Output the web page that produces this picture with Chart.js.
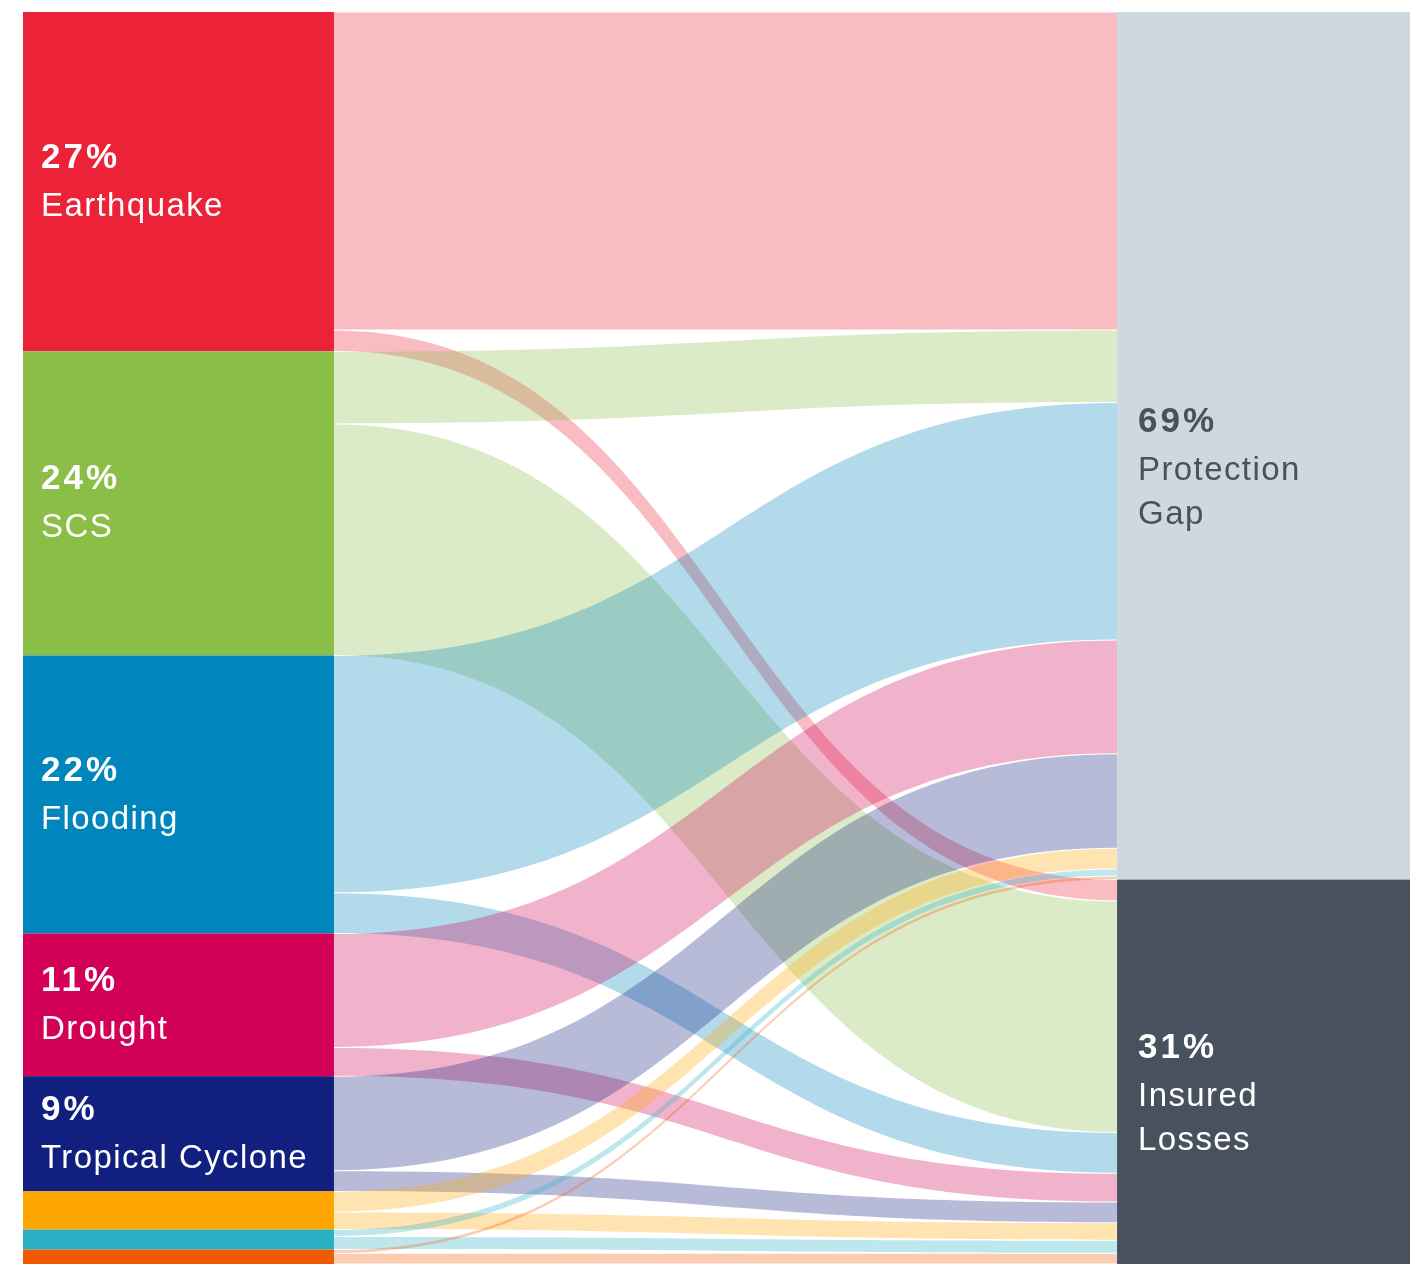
<!DOCTYPE html>
<html>
<head>
<meta charset="utf-8">
<title>Hazard losses: insured vs. protection gap</title>
<script src="https://cdn.jsdelivr.net/npm/chart.js@4"></script>
<style>
  html, body { margin: 0; padding: 0; background: #fff; }
  canvas { display: block; }
</style>
</head>
<body>
<canvas id="flow-chart" width="1410" height="1264"></canvas>
<script>
// hazards on the left, outcomes on the right (shares of total losses, %)
const hazards = ['Earthquake', 'SCS', 'Flooding', 'Drought', 'Tropical Cyclone', '', '', ''];
const hazardColors = ['#EC2239', '#8BBE47', '#0085BD', '#D20057', '#111F7E', '#FFA500', '#29B0C4', '#EF5A00'];
const gapShare = [25.4, 5.8, 18.95, 9.1, 7.55, 1.65, 0.55, 0.3];
const insuredShare = [1.7, 18.5, 3.25, 2.3, 1.65, 1.4, 1.05, 0.85];

const outcomes = [['Protection', 'Gap'], ['Insured', 'Losses']];
const outcomeColors = ['#CDD9DF', '#47525E'];
const outcomeTextColors = ['#47525E', '#FFFFFF'];

// column positions on the x scale (0..1)
const leftCol = [0, 0.2242];
const rightCol = [0.7888, 1];

function hexToRgba(hex, a) {
    const n = parseInt(hex.slice(1), 16);
    return `rgba(${(n >> 16) & 255}, ${(n >> 8) & 255}, ${n & 255}, ${a})`;
}

function drawLabel(ctx, x, yCenter, pct, lines, color) {
    ctx.fillStyle = color;
    ctx.textAlign = 'left';
    ctx.textBaseline = 'alphabetic';
    let y = yCenter - 14;
    ctx.font = 'bold 35px "Liberation Sans", Arial, sans-serif';
    ctx.letterSpacing = '3px';
    ctx.fillText(pct, x, y);
    ctx.font = '33px "Liberation Sans", Arial, sans-serif';
    ctx.letterSpacing = '1.4px';
    y += 48;
    lines.forEach((line) => {
        ctx.fillText(line, x, y);
        y += 44;
    });
    ctx.letterSpacing = '0px';
}

const sankeyPlugin = {
    id: 'sankeyFlows',
    beforeDatasetsDraw(chart) {
        const ctx = chart.ctx;
        const xs = chart.scales.x;
        const ys = chart.scales.y;
        const flows = [gapShare, insuredShare];

        const hazardTotals = hazards.map((_, i) => gapShare[i] + insuredShare[i]);
        const outcomeTotals = flows.map(arr => arr.reduce((s, v) => s + v, 0));

        const xa = xs.getPixelForValue(leftCol[1]);
        const xb = xs.getPixelForValue(rightCol[0]);
        const xm = (xa + xb) / 2;

        // running offsets where the next flow leaves / arrives
        const outcomeStart = [0, outcomeTotals[0]];
        const targetOffset = outcomeStart.slice();
        let sourceOffset = 0;

        ctx.save();
        hazards.forEach((name, i) => {
            flows.forEach((arr, j) => {
                const v = arr[i];
                const ya0 = ys.getPixelForValue(sourceOffset) + 0.5;
                const ya1 = ys.getPixelForValue(sourceOffset + v) - 0.5;
                const yb0 = ys.getPixelForValue(targetOffset[j]) + 0.5;
                const yb1 = ys.getPixelForValue(targetOffset[j] + v) - 0.5;
                ctx.beginPath();
                ctx.moveTo(xa, ya0);
                ctx.bezierCurveTo(xm, ya0, xm, yb0, xb, yb0);
                ctx.lineTo(xb, yb1);
                ctx.bezierCurveTo(xm, yb1, xm, ya1, xa, ya1);
                ctx.closePath();
                ctx.fillStyle = hexToRgba(hazardColors[i], 0.3);
                ctx.fill();
                sourceOffset += v;
                targetOffset[j] += v;
            });
        });

        // hazard nodes
        let acc = 0;
        const x0 = xs.getPixelForValue(leftCol[0]);
        hazards.forEach((name, i) => {
            const top = ys.getPixelForValue(acc);
            const bottom = ys.getPixelForValue(acc + hazardTotals[i]);
            ctx.fillStyle = hazardColors[i];
            ctx.fillRect(x0, top, xa - x0, bottom - top);
            if (name) {
                drawLabel(ctx, x0 + 18, (top + bottom) / 2,
                    Math.round(hazardTotals[i]) + '%', [name], '#FFFFFF');
            }
            acc += hazardTotals[i];
        });

        // outcome nodes
        const x1 = xs.getPixelForValue(rightCol[1]);
        outcomes.forEach((lines, j) => {
            const top = ys.getPixelForValue(outcomeStart[j]);
            const bottom = ys.getPixelForValue(outcomeStart[j] + outcomeTotals[j]);
            ctx.fillStyle = outcomeColors[j];
            ctx.fillRect(xb, top, x1 - xb, bottom - top);
            drawLabel(ctx, xb + 21, (top + bottom) / 2,
                Math.round(outcomeTotals[j]) + '%', lines, outcomeTextColors[j]);
        });
        ctx.restore();
    }
};

new Chart(document.getElementById('flow-chart'), {
    type: 'scatter',
    data: { datasets: [{ data: [], pointRadius: 0 }] },
    options: {
        responsive: false,
        animation: false,
        layout: { padding: { left: 23, top: 12, right: 0, bottom: 0 } },
        scales: {
            x: { type: 'linear', min: 0, max: 1, display: false },
            y: { type: 'linear', min: 0, max: 100, reverse: true, display: false }
        },
        plugins: {
            legend: { display: false },
            tooltip: { enabled: false }
        }
    },
    plugins: [sankeyPlugin]
});
</script>
</body>
</html>
